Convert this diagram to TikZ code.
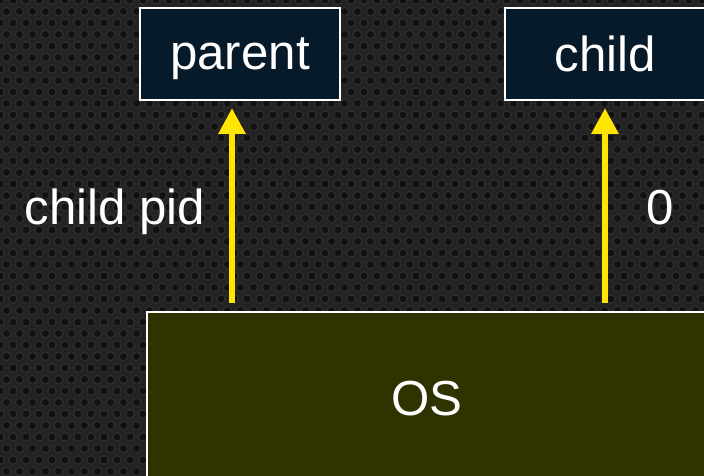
\documentclass[tikz,border=0pt]{standalone}
\usepackage{fontspec}
\setmainfont{Liberation Sans}
\usetikzlibrary{arrows.meta}
\definecolor{bgdark}{HTML}{232324}
\definecolor{holedark}{HTML}{111112}
\definecolor{ringgray}{HTML}{2C2C2E}
\definecolor{boxnavy}{HTML}{071A2A}
\definecolor{osolive}{HTML}{2E3300}
\definecolor{arrowyellow}{HTML}{FFE600}
\begin{document}
\begin{tikzpicture}[x=0.02cm,y=-0.02cm,
  procbox/.style={draw=white,line width=1.2pt,fill=boxnavy,text=white,minimum width=4cm,minimum height=1.84cm,inner sep=0pt,text depth=0pt,font=\fontsize{28}{33}\selectfont},
  retarrow/.style={draw=arrowyellow,line width=3.6pt,-{Triangle[width=14.7pt,length=14.7pt]}},
  lbl/.style={text=white,text depth=0pt,font=\fontsize{28}{33}\selectfont}]
\fill[bgdark] (0,0) rectangle (704,476);
\useasboundingbox (0,0) rectangle (704,476);
\clip (0,0) rectangle (704,476);
\foreach \r in {0,...,42}{
\foreach \c in {0,...,55}{
\filldraw[fill=holedark,draw=ringgray,line width=0.8pt] ({\c*13+mod(\r,2)*6.5},{\r*11.5}) circle (4.3);
}}
\node[procbox] (parent) at (240,54) {parent};
\node[procbox] (child) at (605,54) {child};
\node[procbox,fill=osolive,minimum width=11.2cm,minimum height=3.44cm] (os) at (427,398) {OS};
\coordinate (pfrom) at (232,303);
\coordinate (cfrom) at (605,303);
\draw[retarrow,shorten >=4pt] (pfrom) -- (pfrom |- parent.south);
\draw[retarrow,shorten >=4pt] (cfrom) -- (child.south);
\node[lbl] (pidlabel) at (115,207) {child pid};
\node[lbl] (zerolabel) at (660,207) {0};
\end{tikzpicture}
\end{document}
